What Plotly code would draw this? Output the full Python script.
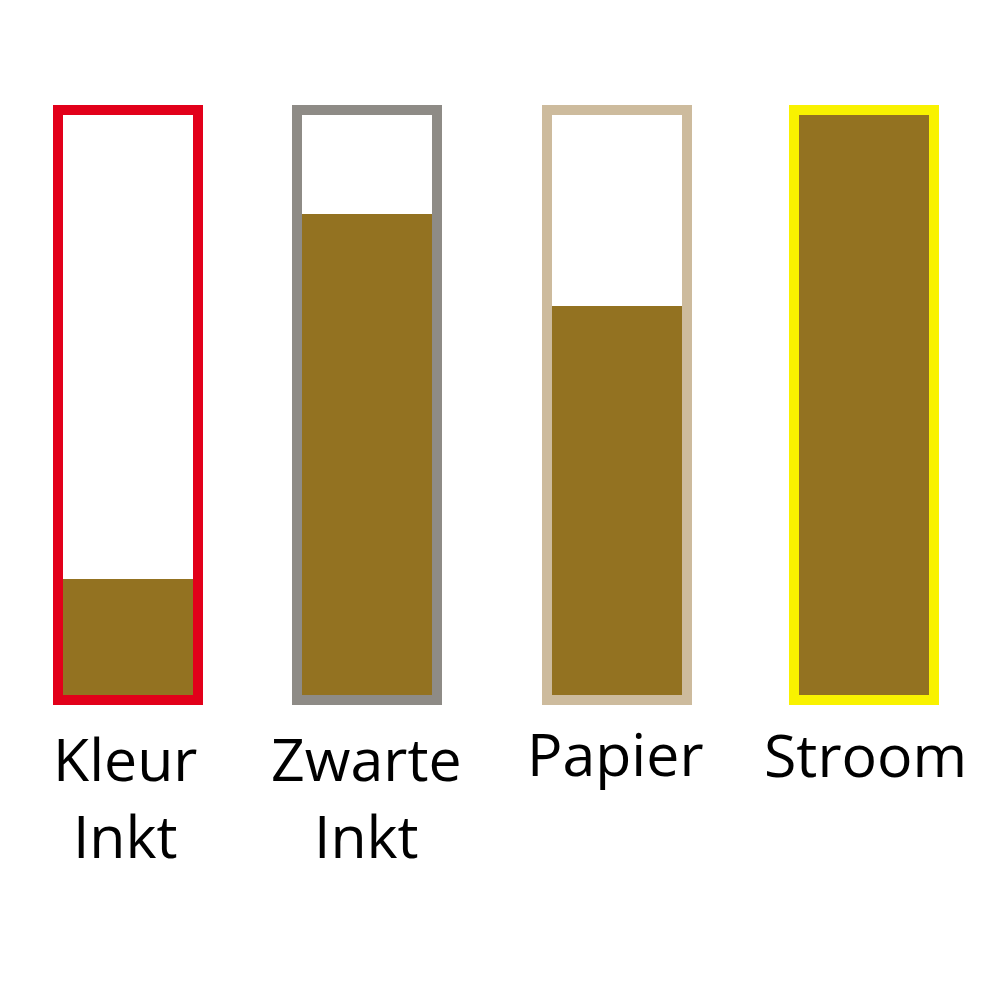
import plotly.graph_objects as go

# Data
categories = ["Kleur<br>Inkt", "Zwarte<br>Inkt", "Papier", "Stroom"]
fill_levels = [20, 83, 67, 100]          # percent filled
capacity = [100, 100, 100, 100]
outline_colors = ["#E2001A", "#8E8B86", "#CDBB9D", "#F9F200"]
fill_color = "#937221"

# Layout constants (pixels in the 1000x1000 page; page body has an 8px margin)
OFF = 8
W = H = 984
centers = [128 - OFF, 367 - OFF, 617 - OFF, 864 - OFF]
label_x = [125 - OFF, 366 - OFF, 615 - OFF, 865 - OFF]
label_top = [716 - OFF, 716 - OFF, 711 - OFF, 712 - OFF]
inner_w = 130
border = 10
outer_w = inner_w + 2 * border
zero_px, full_px = 695 - OFF, 115 - OFF
px_per_unit = (zero_px - full_px) / 100.0
ymin = -(H - zero_px) / px_per_unit
ymax = ymin + H / px_per_unit
b_units = border / px_per_unit

fig = go.Figure()
# outer coloured frame
fig.add_trace(go.Bar(
    x=centers, y=[c + 2 * b_units for c in capacity], base=[-b_units] * len(capacity),
    width=[outer_w] * len(centers), marker=dict(color=outline_colors, line=dict(width=0)),
    hoverinfo="skip", showlegend=False))
# white interior
fig.add_trace(go.Bar(
    x=centers, y=capacity, base=[0] * len(capacity),
    width=[inner_w] * len(centers), marker=dict(color="white", line=dict(width=0)),
    hoverinfo="skip", showlegend=False))
# fill level
fig.add_trace(go.Bar(
    x=centers, y=fill_levels, base=[0] * len(fill_levels),
    width=[inner_w] * len(centers), marker=dict(color=fill_color, line=dict(width=0)),
    hoverinfo="skip", showlegend=False))

for lx, ly, lab in zip(label_x, label_top, categories):
    fig.add_annotation(x=lx, xref="x", y=1 - ly / H, yref="paper", text=lab,
                       showarrow=False, yanchor="top", xanchor="center", align="center",
                       font=dict(family="Open Sans", size=59, color="black"))

fig.update_layout(
    width=W, height=H, margin=dict(l=0, r=0, t=0, b=0),
    paper_bgcolor="white", plot_bgcolor="white", barmode="overlay", bargap=0,
    xaxis=dict(range=[0, W], visible=False, fixedrange=True),
    yaxis=dict(range=[ymin, ymax], visible=False, fixedrange=True),
)
fig.write_html("out.html", config={"displayModeBar": False})
